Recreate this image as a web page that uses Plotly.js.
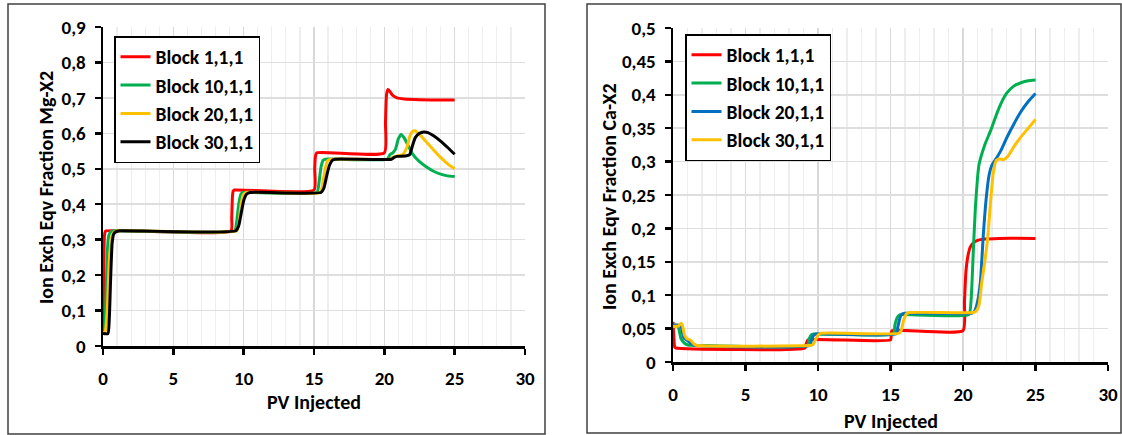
<!DOCTYPE html>
<html>
<head>
<meta charset="utf-8">
<script src="https://cdn.plot.ly/plotly-3.0.1.min.js"></script>
<style>html,body{margin:0;padding:0;background:#fff;}#chart{width:1122px;height:435px;}</style>
</head>
<body>
<div id="chart"></div>
<script>
// ---------- Data: Mg-X2 (left chart) ----------
const mgNames = ['Block 1,1,1', 'Block 10,1,1', 'Block 20,1,1', 'Block 30,1,1'];
const mgColors = ['#FF0000', '#00B050', '#FFC000', '#000000'];

const mgX1 = [0, 0.05, 0.1, 0.15, 0.2, 9.1, 9.15, 9.2, 9.25, 9.35, 15.0, 15.05, 15.1, 15.2, 20.0, 20.08, 20.16, 20.26, 20.4, 20.6, 20.9, 21.4, 22.5, 25];
const mgY1 = [0.035, 0.2, 0.31, 0.322, 0.325, 0.325, 0.36, 0.42, 0.437, 0.44, 0.44, 0.50, 0.535, 0.545, 0.545, 0.63, 0.71, 0.724, 0.718, 0.707, 0.700, 0.697, 0.695, 0.694];

const mgX10 = [0, 0.1, 0.2, 0.3, 0.4, 0.55, 0.8, 9.35, 9.5, 9.65, 9.8, 9.95, 15.2, 15.35, 15.5, 15.65, 15.8, 20.2, 20.4, 20.6, 20.8, 21.0, 21.2, 21.4, 21.7, 22.0, 22.5, 23.0, 23.5, 24.0, 24.5, 25];
const mgY10 = [0.035, 0.04, 0.12, 0.26, 0.31, 0.322, 0.325, 0.325, 0.35, 0.40, 0.428, 0.433, 0.433, 0.46, 0.505, 0.524, 0.527, 0.527, 0.54, 0.545, 0.556, 0.585, 0.597, 0.588, 0.565, 0.542, 0.52, 0.505, 0.493, 0.485, 0.48, 0.478];

const mgX20 = [0, 0.15, 0.3, 0.45, 0.6, 0.75, 1.0, 9.5, 9.65, 9.8, 9.95, 10.15, 15.45, 15.6, 15.8, 15.95, 16.2, 20.4, 20.6, 20.9, 21.3, 21.6, 21.8, 22.0, 22.15, 22.5, 23.0, 23.5, 24.0, 24.5, 25];
const mgY20 = [0.035, 0.04, 0.10, 0.24, 0.305, 0.32, 0.325, 0.325, 0.345, 0.395, 0.425, 0.433, 0.433, 0.455, 0.50, 0.522, 0.527, 0.527, 0.532, 0.536, 0.54, 0.56, 0.59, 0.605, 0.607, 0.597, 0.575, 0.553, 0.532, 0.514, 0.5];

const mgX30 = [0, 0.35, 0.45, 0.55, 0.65, 0.75, 0.9, 1.2, 9.45, 9.65, 9.85, 10.0, 10.2, 10.45, 15.5, 15.7, 15.9, 16.1, 16.3, 16.5, 20.5, 20.7, 20.9, 21.5, 21.8, 22.0, 22.2, 22.5, 22.8, 23.1, 23.5, 24.0, 24.5, 25];
const mgY30 = [0.035, 0.035, 0.08, 0.2, 0.29, 0.315, 0.322, 0.325, 0.325, 0.34, 0.38, 0.41, 0.428, 0.433, 0.433, 0.445, 0.48, 0.51, 0.524, 0.527, 0.527, 0.532, 0.535, 0.536, 0.54, 0.565, 0.588, 0.6, 0.604, 0.602, 0.593, 0.578, 0.56, 0.541];

// ---------- Data: Ca-X2 (right chart) ----------
const caNames = ['Block 1,1,1', 'Block 10,1,1', 'Block 20,1,1', 'Block 30,1,1'];
const caColors = ['#FF0000', '#00B050', '#0070C0', '#FFC000'];

const caX1 = [0, 0.05, 0.12, 0.2, 9.1, 9.2, 9.3, 15.0, 15.05, 15.1, 20.0, 20.1, 20.2, 20.35, 20.5, 20.7, 21.0, 21.5, 22.5, 25];
const caY1 = [0.06, 0.04, 0.022, 0.021, 0.021, 0.028, 0.033, 0.033, 0.042, 0.047, 0.047, 0.09, 0.135, 0.16, 0.172, 0.178, 0.182, 0.184, 0.185, 0.185];

const caX10 = [0, 0.3, 0.4, 0.55, 0.8, 1.1, 1.3, 9.3, 9.4, 9.55, 9.7, 15.2, 15.3, 15.45, 15.6, 15.8, 20.4, 20.55, 20.7, 20.85, 21.0, 21.1, 21.5, 21.9, 22.3, 22.6, 23.0, 23.5, 24.0, 24.5, 25];
const caY10 = [0.055, 0.055, 0.05, 0.035, 0.028, 0.025, 0.025, 0.025, 0.035, 0.041, 0.042, 0.042, 0.055, 0.066, 0.07, 0.071, 0.071, 0.09, 0.16, 0.23, 0.275, 0.295, 0.325, 0.346, 0.37, 0.386, 0.402, 0.413, 0.418, 0.421, 0.422];

const caX20 = [0, 0.5, 0.6, 0.75, 1.0, 1.3, 1.5, 9.45, 9.55, 9.7, 9.85, 15.4, 15.5, 15.65, 15.8, 16.0, 20.6, 20.8, 21.0, 21.2, 21.4, 21.6, 21.8, 22.0, 22.3, 22.6, 23.0, 23.5, 24.0, 24.5, 25];
const caY20 = [0.055, 0.055, 0.05, 0.036, 0.032, 0.027, 0.025, 0.025, 0.033, 0.04, 0.042, 0.042, 0.052, 0.066, 0.072, 0.073, 0.073, 0.076, 0.09, 0.12, 0.19, 0.245, 0.28, 0.295, 0.305, 0.316, 0.335, 0.356, 0.375, 0.39, 0.402];

const caX30 = [0, 0.4, 0.55, 0.65, 0.8, 0.95, 1.2, 1.4, 1.6, 9.5, 9.65, 9.8, 10.0, 10.2, 15.6, 15.75, 15.9, 16.1, 16.3, 20.7, 20.9, 21.1, 21.3, 21.5, 21.7, 21.9, 22.1, 22.3, 22.5, 22.8, 23.1, 23.5, 24.0, 24.5, 25];
const caY30 = [0.053, 0.054, 0.058, 0.055, 0.04, 0.035, 0.033, 0.028, 0.025, 0.025, 0.026, 0.032, 0.04, 0.043, 0.043, 0.048, 0.062, 0.072, 0.074, 0.074, 0.076, 0.085, 0.12, 0.15, 0.185, 0.24, 0.285, 0.302, 0.304, 0.303, 0.308, 0.322, 0.337, 0.35, 0.363];

// ---------- Tick labels ----------
const xTickVals = [0, 5, 10, 15, 20, 25, 30];
const xTickText = ['0', '5', '10', '15', '20', '25', '30'];
const xMinorVals = [1, 2, 3, 4, 6, 7, 8, 9, 11, 12, 13, 14, 16, 17, 18, 19, 21, 22, 23, 24, 26, 27, 28, 29];
const mgTickVals = [0, 0.1, 0.2, 0.3, 0.4, 0.5, 0.6, 0.7, 0.8, 0.9];
const mgTickText = ['0', '0,1', '0,2', '0,3', '0,4', '0,5', '0,6', '0,7', '0,8', '0,9'];
const caTickVals = [0, 0.05, 0.1, 0.15, 0.2, 0.25, 0.3, 0.35, 0.4, 0.45, 0.5];
const caTickText = ['0', '0,05', '0,1', '0,15', '0,2', '0,25', '0,3', '0,35', '0,4', '0,45', '0,5'];

const xTitle = 'PV Injected';
const mgTitle = 'Ion Exch Eqv Fraction Mg-X2';
const caTitle = 'Ion Exch Eqv Fraction Ca-X2';

// ---------- Build ----------
const FONT = "Carlito, Calibri, 'Liberation Sans Narrow', 'DejaVu Sans Condensed', 'Open Sans', sans-serif";
const W = 1122, H = 435;
const px = v => v / W;
const py = v => 1 - v / H;

const mgXs = [mgX1, mgX10, mgX20, mgX30];
const mgYs = [mgY1, mgY10, mgY20, mgY30];
const caXs = [caX1, caX10, caX20, caX30];
const caYs = [caY1, caY10, caY20, caY30];

const traces = [];
for (let i = 0; i < 4; i++) {
  traces.push({
    x: mgXs[i], y: mgYs[i], name: mgNames[i], type: 'scatter', mode: 'lines',
    line: {color: mgColors[i], width: 3, shape: 'spline', smoothing: 0.5},
    xaxis: 'x', yaxis: 'y', legend: 'legend'
  });
}
for (let i = 0; i < 4; i++) {
  traces.push({
    x: caXs[i], y: caYs[i], name: caNames[i], type: 'scatter', mode: 'lines',
    line: {color: caColors[i], width: 3, shape: 'spline', smoothing: 0.5},
    xaxis: 'x2', yaxis: 'y2', legend: 'legend2'
  });
}

const tickFont = {family: FONT, size: 19, color: '#000', weight: 'bold'};
function xAxis(domain, anchor) {
  return {
    domain: domain, anchor: anchor, range: [0, 30], tickvals: xTickVals, ticktext: xTickText,
    showline: true, linecolor: '#000', linewidth: 2.5, ticks: 'outside', ticklen: 6, tickwidth: 2.5, tickcolor: '#000',
    showgrid: true, gridcolor: '#d9d9d9', gridwidth: 1.5, zeroline: false,
    minor: {tickvals: xMinorVals, showgrid: true, gridcolor: '#eeeeee', gridwidth: 1.2, ticks: ''},
    tickfont: tickFont, ticklabelstandoff: 8, fixedrange: true
  };
}
function yAxis(domain, anchor, range, vals, text) {
  return {
    domain: domain, anchor: anchor, range: range, tickvals: vals, ticktext: text,
    showline: true, linecolor: '#000', linewidth: 2.5, ticks: 'outside', ticklen: 6, tickwidth: 2.5, tickcolor: '#000',
    showgrid: true, gridcolor: '#dedede', gridwidth: 1.5, zeroline: false,
    tickfont: tickFont, ticklabelstandoff: 5, fixedrange: true
  };
}

const legendBase = {
  bgcolor: '#fff', bordercolor: '#000', borderwidth: 1.5,
  font: {family: FONT, size: 19.5, color: '#000', weight: 'bold'},
  xanchor: 'left', yanchor: 'top', itemwidth: 30, traceorder: 'normal'
};

const titleFont = {family: FONT, size: 20, color: '#000', weight: 'bold'};

const layout = {
  width: W, height: H,
  margin: {l: 0, r: 0, t: 0, b: 0},
  paper_bgcolor: '#fff', plot_bgcolor: '#fff',
  showlegend: true,
  xaxis: xAxis([px(103), px(525)], 'y'),
  yaxis: yAxis([py(346), py(27)], 'x', [0, 0.9], mgTickVals, mgTickText),
  xaxis2: xAxis([px(673), px(1108)], 'y2'),
  yaxis2: yAxis([py(362), py(28)], 'x2', [0, 0.5], caTickVals, caTickText),
  legend: Object.assign({}, legendBase, {x: px(114), y: py(36)}),
  legend2: Object.assign({}, legendBase, {x: px(685), y: py(34)}),
  shapes: [
    {type: 'rect', xref: 'paper', yref: 'paper', x0: px(8), x1: px(545), y0: py(434), y1: py(4), line: {color: '#404040', width: 1.5}},
    {type: 'rect', xref: 'paper', yref: 'paper', x0: px(587), x1: px(1121), y0: py(433), y1: py(4), line: {color: '#404040', width: 1.5}}
  ],
  annotations: [
    {text: xTitle, xref: 'paper', yref: 'paper', x: px(314), y: py(402), showarrow: false, font: titleFont, xanchor: 'center', yanchor: 'middle'},
    {text: xTitle, xref: 'paper', yref: 'paper', x: px(891), y: py(421), showarrow: false, font: titleFont, xanchor: 'center', yanchor: 'middle'},
    {text: mgTitle, xref: 'paper', yref: 'paper', x: px(46), y: py(188), showarrow: false, font: titleFont, textangle: -90, xanchor: 'center', yanchor: 'middle'},
    {text: caTitle, xref: 'paper', yref: 'paper', x: px(609), y: py(196), showarrow: false, font: titleFont, textangle: -90, xanchor: 'center', yanchor: 'middle'}
  ]
};

Plotly.newPlot('chart', traces, layout, {displayModeBar: false, staticPlot: true});
</script>
</body>
</html>
